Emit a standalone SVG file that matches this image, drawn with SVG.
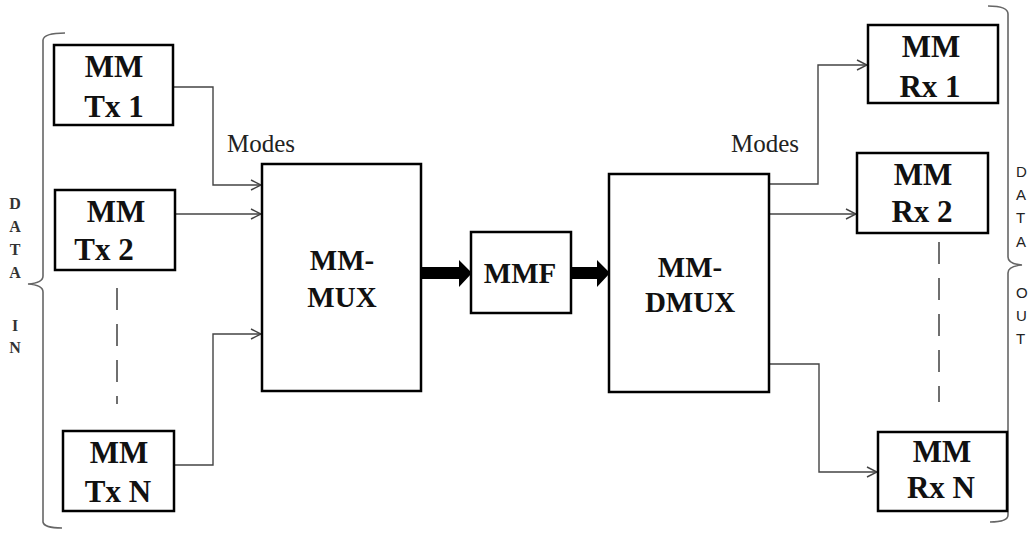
<svg xmlns="http://www.w3.org/2000/svg" width="1029" height="533" viewBox="0 0 1029 533">
<defs>
<style>
.box{fill:#fff;stroke:#000;stroke-width:2.5}
.lbl{font-weight:bold;fill:#111;text-anchor:middle}
.big{font-size:31px}
.mid{font-size:29px}
.modes{font-size:25px;fill:#222}
.conn{fill:none;stroke:#444;stroke-width:1.4}
.dash{fill:none;stroke:#333;stroke-width:1.4;stroke-dasharray:22,14}
.brace{fill:none;stroke:#666;stroke-width:1.6}
.sidel{font-size:16px;font-weight:bold;fill:#333;text-anchor:middle}
.sider{font-size:15px;fill:#222}
.thick{fill:#000;stroke:none}
</style>
<marker id="open" viewBox="0 0 12 12" refX="11" refY="6" markerWidth="12" markerHeight="12" markerUnits="userSpaceOnUse" orient="auto">
<path d="M1,1 L11,6 L1,11" fill="none" stroke="#444" stroke-width="1.4"/>
</marker>
</defs>

<g id="connectors">
<path class="conn" d="M173,87 H213 V185 H261" marker-end="url(#open)"/>
<path class="conn" d="M175,214 H261" marker-end="url(#open)"/>
<path class="conn" d="M174,465 H213 V334 H261" marker-end="url(#open)"/>
<path class="conn" d="M769,184 H818 V65 H867" marker-end="url(#open)"/>
<path class="conn" d="M760,214 H856" marker-end="url(#open)"/>
<path class="conn" d="M760,364 H819 V472 H877" marker-end="url(#open)"/>
<path class="thick" d="M421,267 H459 V260 L472,273 L459,287 V279 H421 Z"/>
<path class="thick" d="M571,267 H597 V260 L610,273 L597,287 V279 H571 Z"/>
<line class="dash" x1="117" y1="288" x2="117" y2="404"/>
<line class="dash" x1="939" y1="242" x2="939" y2="402"/>
</g>

<g id="brace-in" font-family="'Liberation Serif', serif">
<path class="brace" d="M65,33 Q44,33 43,40 V276 Q43,283 28,284 Q43,285 43,292 V522 Q44,528 62,528"/>
<text class="sidel" x="15" y="209">D</text>
<text class="sidel" x="15" y="232">A</text>
<text class="sidel" x="15" y="255">T</text>
<text class="sidel" x="15" y="278">A</text>
<text class="sidel" x="15" y="331">I</text>
<text class="sidel" x="15" y="353">N</text>
</g>

<g id="brace-out" font-family="'Liberation Sans', sans-serif">
<path class="brace" d="M988,6 Q1008,6 1008,14 V257 Q1008,264 1022,265 Q1008,266 1008,273 V515 Q1008,522 990,522"/>
<text class="sider" x="1016" y="177">D</text>
<text class="sider" x="1016" y="200">A</text>
<text class="sider" x="1016" y="223">T</text>
<text class="sider" x="1016" y="247">A</text>
<text class="sider" x="1016" y="298">O</text>
<text class="sider" x="1016" y="321">U</text>
<text class="sider" x="1016" y="344">T</text>
</g>

<g font-family="'Liberation Serif', serif">
<g id="tx1"><rect class="box" x="54" y="45" width="119" height="80"/>
<text class="lbl big" x="114" y="77">MM</text><text class="lbl big" x="114" y="117">Tx 1</text></g>
<g id="tx2"><rect class="box" x="55" y="190" width="120" height="80"/>
<text class="lbl big" x="116" y="222">MM</text><text class="lbl big" x="104" y="260">Tx 2</text></g>
<g id="txn"><rect class="box" x="63" y="431" width="111" height="80"/>
<text class="lbl big" x="119" y="463">MM</text><text class="lbl big" x="118" y="502">Tx N</text></g>

<g id="mux"><rect class="box" x="262" y="164" width="159" height="227"/>
<text class="lbl mid" x="342" y="270">MM-</text><text class="lbl mid" x="342" y="307">MUX</text></g>
<g id="mmf"><rect class="box" x="471" y="232" width="100" height="81"/>
<text class="lbl mid" x="520" y="283">MMF</text></g>
<g id="dmux"><rect class="box" x="609" y="174" width="160" height="218"/>
<text class="lbl mid" x="690" y="277">MM-</text><text class="lbl mid" x="690" y="312">DMUX</text></g>

<g id="rx1"><rect class="box" x="868" y="25" width="130" height="78"/>
<text class="lbl big" x="931" y="57">MM</text><text class="lbl big" x="930" y="97">Rx 1</text></g>
<g id="rx2"><rect class="box" x="857" y="153" width="131" height="80"/>
<text class="lbl big" x="923" y="185">MM</text><text class="lbl big" x="922" y="222">Rx 2</text></g>
<g id="rxn"><rect class="box" x="878" y="432" width="129" height="79"/>
<text class="lbl big" x="942" y="462">MM</text><text class="lbl big" x="941" y="498">Rx N</text></g>

<g id="labels">
<text class="modes" x="227" y="152">Modes</text>
<text class="modes" x="731" y="152">Modes</text>
</g>
</g>
</svg>
